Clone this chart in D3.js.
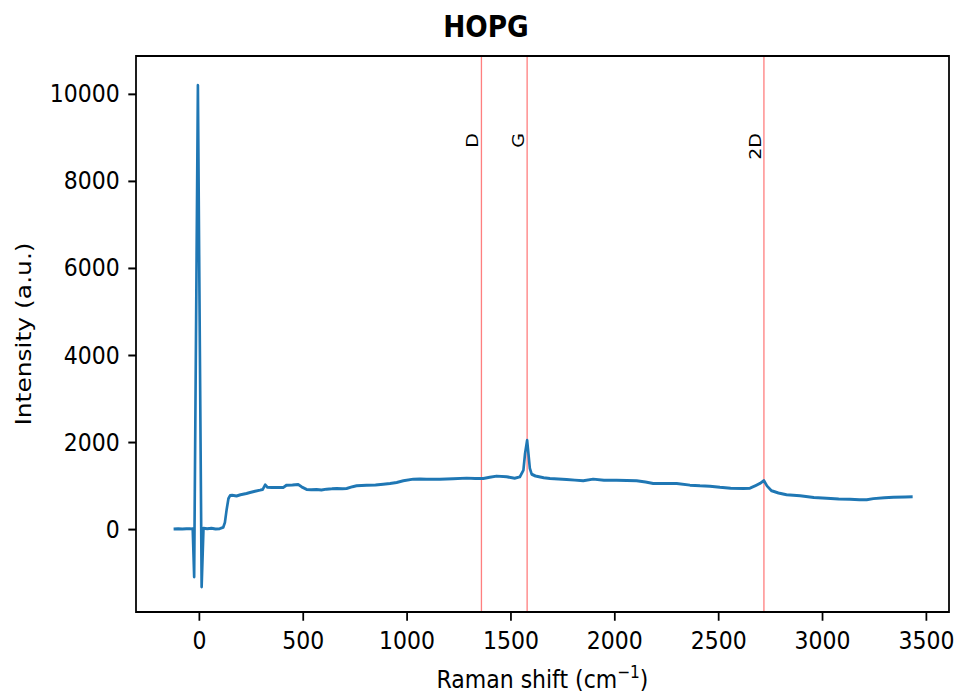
<!DOCTYPE html>
<html>
  <head>
    <meta charset="utf-8">
    <title>HOPG Raman</title>
    <script src="https://cdn.jsdelivr.net/npm/d3@7"></script>
    <style>
      body { margin:0; background:#fff; }
      svg { display:block; }
      text { font-family: "DejaVu Sans", sans-serif; fill:#000; }
    </style>
  </head>
  <body>
    <script>

// spectrum
var shift = [-122, -100, -80, -60, -40, -30, -23, -5, 13, 22, 40, 60, 80, 100, 117, 125, 133, 142, 150, 160,
  181, 200, 229, 246, 270, 294, 307, 319, 330, 350, 374, 406, 422, 450, 478, 494, 518, 540, 566, 590,
  614, 640, 663, 690, 711, 740, 759, 807, 850, 887, 920, 952, 984, 1032, 1064, 1096, 1130, 1160, 1224, 1289,
  1330, 1369, 1400, 1433, 1481, 1520, 1545, 1562, 1570, 1580, 1587, 1593, 1602, 1620, 1660, 1690, 1730, 1770, 1810, 1850,
  1898, 1950, 2011, 2060, 2107, 2150, 2187, 2240, 2300, 2364, 2412, 2460, 2508, 2560, 2621, 2653, 2680, 2701, 2720, 2735,
  2757, 2790, 2829, 2894, 2960, 3022, 3080, 3134, 3180, 3215, 3247, 3300, 3343, 3400, 3436];
var intensity = [0, 5, 0, 10, 5, 10, -1100, 10200, -1330, 20, 10, 20, 0, 10, 40, 150, 436, 700, 770, 775,
  760, 790, 819, 842, 870, 895, 911, 1018, 960, 955, 957, 957, 1010, 1015, 1026, 971, 911, 905, 911, 900,
  918, 925, 934, 925, 934, 975, 994, 1010, 1015, 1033, 1050, 1072, 1109, 1148, 1150, 1148, 1145, 1148, 1156, 1171,
  1165, 1163, 1190, 1217, 1202, 1170, 1200, 1350, 1737, 2043, 1700, 1400, 1260, 1220, 1180, 1163, 1150, 1140, 1125, 1109,
  1148, 1120, 1125, 1115, 1109, 1080, 1049, 1050, 1049, 1010, 994, 987, 960, 940, 934, 940, 1000, 1049, 1115, 990,
  880, 830, 790, 765, 725, 711, 690, 685, 675, 673, 700, 720, 732, 738, 742];

var peakNames = ["D", "G", "2D"];
var peakPos = [1360, 1580, 2720];
var peakLabelY = 9100;

var xTicks = [0, 500, 1000, 1500, 2000, 2500, 3000, 3500];
var yTicks = [0, 2000, 4000, 6000, 8000, 10000];

// the picture is squeezed sideways, so draw wider and let the viewBox squeeze it
var SX = 0.88;
var width = 958, height = 694;
var vw = width / SX;

var plotL = 136 / SX, plotR = 949 / SX, plotT = 56, plotB = 612;

var svg = d3.select("body").append("svg")
    .attr("width", width)
    .attr("height", height)
    .attr("viewBox", "0 0 " + vw + " " + height)
    .attr("preserveAspectRatio", "none");

svg.append("rect").attr("width", vw).attr("height", height).attr("fill", "#fff");

var x = d3.scaleLinear().domain([-303, 3611]).range([plotL, plotR]);
var y = d3.scaleLinear().domain([-1905, 10870]).range([plotB, plotT]);

var data = shift.map(function(s, i) { return [s, intensity[i]]; });

// peak markers
svg.selectAll(".peak")
    .data(peakPos)
  .enter().append("line")
    .attr("class", "peak")
    .attr("x1", function(d) { return x(d); })
    .attr("x2", function(d) { return x(d); })
    .attr("y1", plotT)
    .attr("y2", plotB)
    .attr("stroke", "red")
    .attr("stroke-opacity", 0.5)
    .attr("stroke-width", 1.5);

svg.selectAll(".peak-label")
    .data(peakPos)
  .enter().append("text")
    .attr("class", "peak-label")
    .attr("transform", function(d) { return "translate(" + (x(d) - 3.4) + "," + y(peakLabelY) + ") rotate(-90)"; })
    .attr("text-anchor", "end")
    .style("font-size", "19px")
    .text(function(d, i) { return peakNames[i]; });

var line = d3.line()
    .x(function(d) { return x(d[0]); })
    .y(function(d) { return y(d[1]); });

svg.append("path")
    .datum(data)
    .attr("d", line)
    .attr("fill", "none")
    .attr("stroke", "#1f77b4")
    .attr("stroke-width", 3)
    .attr("stroke-linejoin", "round");

// axes
var xAxis = svg.append("g")
    .attr("transform", "translate(0," + plotB + ")")
    .call(d3.axisBottom(x).tickValues(xTicks).tickFormat(d3.format("d")).tickSize(8.75).tickSizeOuter(0).tickPadding(10.5));

var yAxis = svg.append("g")
    .attr("transform", "translate(" + plotL + ",0)")
    .call(d3.axisLeft(y).tickValues(yTicks).tickFormat(d3.format("d")).tickSize(8.75).tickSizeOuter(0).tickPadding(9.75));

[xAxis, yAxis].forEach(function(g) {
  g.select(".domain").remove();
  g.selectAll(".tick line").attr("stroke", "#000").attr("stroke-width", 2);
  g.selectAll(".tick text").attr("fill", "#000").style("font-size", "25px").style("font-family", "DejaVu Sans");
});

svg.append("rect")
    .attr("x", plotL)
    .attr("y", plotT)
    .attr("width", plotR - plotL)
    .attr("height", plotB - plotT)
    .attr("fill", "none")
    .attr("stroke", "#000")
    .attr("stroke-width", 2);

// titles
svg.append("text")
    .attr("x", 486 / SX)
    .attr("y", 37)
    .attr("text-anchor", "middle")
    .style("font-size", "30px")
    .style("font-weight", "bold")
    .text("HOPG");

svg.append("text")
    .attr("transform", "translate(35," + ((plotT + plotB) / 2) + ") rotate(-90)")
    .attr("text-anchor", "middle")
    .style("font-size", "25px")
    .text("Intensity (a.u.)");

var xl = svg.append("text")
    .attr("x", (plotL + plotR) / 2)
    .attr("y", 688)
    .attr("text-anchor", "middle")
    .style("font-size", "25px");
xl.append("tspan").text("Raman shift (cm");
xl.append("tspan").attr("dy", -10).style("font-size", "17.5px").text("\u22121");
xl.append("tspan").attr("dy", 10).text(")");

    </script>
  </body>
</html>
